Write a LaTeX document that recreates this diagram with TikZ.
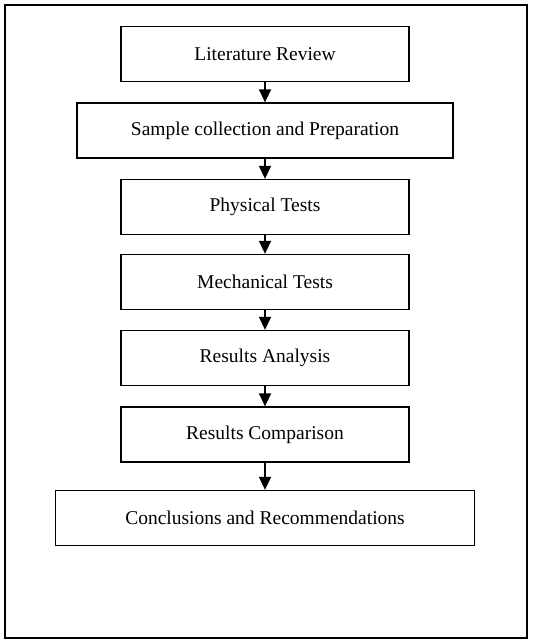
\documentclass[tikz,border=0pt]{standalone}
\usepackage{fontspec}
\setmainfont{Liberation Serif}
\usetikzlibrary{arrows.meta}

\begin{document}
\begin{tikzpicture}[x=1pt,y=-1pt,
  stage/.style={draw,line width=1.3pt,minimum height=55pt,inner sep=0pt,
    font=\fontsize{19.5}{22}\selectfont},
  flow/.style={line width=1.6pt,-{Triangle[length=13pt,width=12pt]}}]
\useasboundingbox (0,0) rectangle (532,644);
\draw[line width=1.2pt] (5,5) rectangle (527,638);
%%%%%%%%%%%%%%%%
\node[stage,minimum width=288pt] (lit) at (265,54) {Literature Review};
\node[stage,minimum width=376pt] (sample) at (265,130.5) {Sample collection and Preparation};
\node[stage,minimum width=288pt] (phys) at (265,207) {Physical Tests};
\node[stage,minimum width=288pt] (mech) at (265,282) {Mechanical Tests};
\node[stage,minimum width=288pt] (anal) at (265,358) {Results Analysis};
\node[stage,minimum width=288pt] (comp) at (265,434.5) {Results Comparison};
\node[stage,minimum width=419pt] (concl) at (265,518) {Conclusions and Recommendations};
%%%%%%%%%%%%%%%%
\draw[flow] (lit.south) -- (sample.north);
\draw[flow] (sample.south) -- (phys.north);
\draw[flow] (phys.south) -- (mech.north);
\draw[flow] (mech.south) -- (anal.north);
\draw[flow] (anal.south) -- (comp.north);
\draw[flow] (comp.south) -- (concl.north);
\end{tikzpicture}
\end{document}
